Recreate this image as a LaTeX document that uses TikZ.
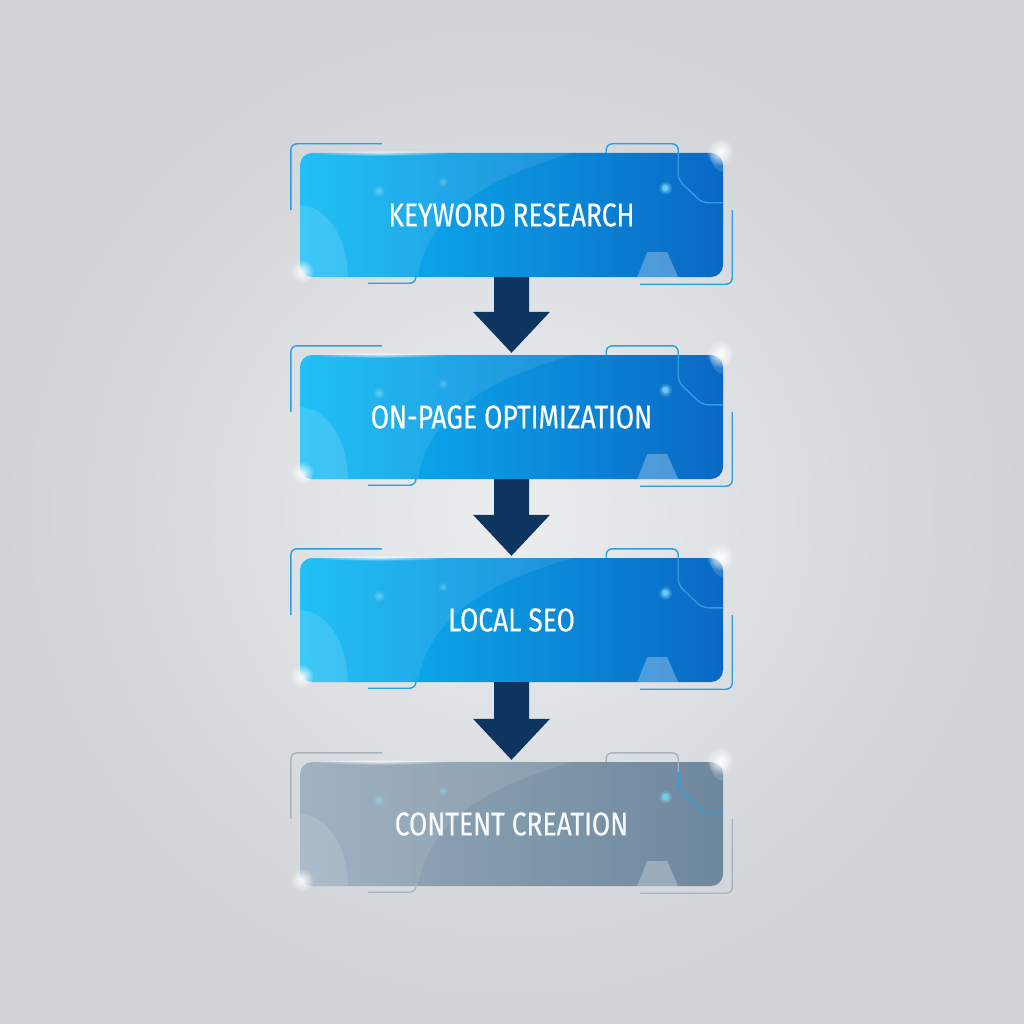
\documentclass[tikz,border=0pt]{standalone}
\usepackage{fontspec}
\newfontfamily\stepfont[FakeStretch=0.8, FakeBold=0.4]{Fira Sans}
\usetikzlibrary{calc,fadings}

\definecolor{bgin}{HTML}{EBEDEF}
\definecolor{bgout}{HTML}{CFD2D6}
\definecolor{blueL}{HTML}{0CBBF6}
\definecolor{blueM}{HTML}{0880D4}
\definecolor{blueR}{HTML}{0A68C4}
\definecolor{greyL}{HTML}{98ABBB}
\definecolor{greyM}{HTML}{7990A5}
\definecolor{greyR}{HTML}{6D879D}
\definecolor{flow}{HTML}{0E3560}
\definecolor{trim}{HTML}{2C9FE2}
\definecolor{trimgrey}{HTML}{A9B3BC}

\tikzfading[name=glow, inner color=transparent!0, outer color=transparent!100]

\tikzset{
  stepbox/.style={rounded corners=12pt, minimum width=423pt, minimum height=124pt,
    inner sep=0pt, text=white, font=\stepfont\fontsize{33}{36}\selectfont},
  bluebox/.style={stepbox, left color=blueL, middle color=blueM, right color=blueR},
  greybox/.style={stepbox, left color=greyL, middle color=greyM, right color=greyR},
  flowarrow/.style={fill=flow},
  trimline/.style={line width=1.4pt, rounded corners=6pt},
}

% #1 node, #2 bracket colour, #3 colour of the corner circuit
\newcommand{\stepdeco}[3]{
  \begin{scope}
    \clip[rounded corners=12pt] (#1.north west) rectangle (#1.south east);
    \fill[white, opacity=0.09] (#1.north west) -- ($(#1.north west)+(273,0)$)
      .. controls ($(#1.north west)+(200,22)$) and ($(#1.north west)+(130,52)$) .. ($(#1.north west)+(118,124)$)
      -- (#1.south west) -- cycle;
    \fill[white, opacity=0.13] (#1.south west) ellipse [x radius=48pt, y radius=72pt];
    \fill[white, opacity=0.15] (#1.north east) ellipse [x radius=13pt, y radius=19pt];
    \fill[white, opacity=0.28] ($(#1.south east)+(-86,0)$) -- ($(#1.south east)+(-76,-25)$)
      -- ($(#1.south east)+(-56,-25)$) -- ($(#1.south east)+(-45,0)$) -- cycle;
    \fill[cyan!50!white, path fading=glow] ($(#1.north east)+(-58,35)$) circle (7pt);
    \fill[cyan!60!white, opacity=0.9] ($(#1.north east)+(-58,35)$) circle (3pt);
    \fill[cyan!40!white, path fading=glow, opacity=0.6] ($(#1.north west)+(79,38)$) circle (6pt);
    \fill[cyan!40!white, path fading=glow, opacity=0.5] ($(#1.north west)+(143,29)$) circle (5pt);
  \end{scope}
  \draw[trimline, #2] ($(#1.north west)+(-9,57)$) -- ($(#1.north west)+(-9,-9)$) -- ($(#1.north west)+(82,-9)$);
  \draw[trimline, #2] ($(#1.south west)+(68,6)$) -- ($(#1.south west)+(116,6)$) -- ($(#1.south west)+(116,-3)$);
  \draw[trimline, #2] ($(#1.north east)+(-117,0)$) -- ($(#1.north east)+(-117,-9)$) -- ($(#1.north east)+(-45,-9)$) -- ($(#1.north east)+(-45,10)$);
  \draw[trimline, #3] ($(#1.north east)+(-45,10)$) -- ($(#1.north east)+(-45,27)$) -- ($(#1.north east)+(-21,50)$) -- ($(#1.north east)+(0,50)$);
  \draw[trimline, #2] ($(#1.south east)+(9,-67)$) -- ($(#1.south east)+(9,7)$) -- ($(#1.south east)+(-83,7)$);
  \fill[white, path fading=glow] ($(#1.north east)+(-3,-1)$) circle (14pt);
  \fill[white, path fading=glow, opacity=0.9] ($(#1.south west)+(2,-6)$) circle (12pt);
  \fill[white, path fading=glow, opacity=0.7] ($(#1.north west)+(80,0)$) ellipse [x radius=70pt, y radius=3pt];
}

\newcommand{\flowto}[2]{
  \fill[flowarrow] ($(#1.south)+(-17.5,0)$) -- ($(#2.north)+(-17.5,-43)$) -- ($(#2.north)+(-38.5,-43)$)
    -- ($(#2.north)+(0,-2)$) -- ($(#2.north)+(38.5,-43)$) -- ($(#2.north)+(17.5,-43)$)
    -- ($(#1.south)+(17.5,0)$) -- cycle;
}

\begin{document}
\begin{tikzpicture}[x=1pt, y=-1pt]
\shade[inner color=bgin, outer color=bgout] (0,0) rectangle (1024,1024);

\node[bluebox] (kw) at (511.5,215) {KEYWORD RESEARCH};
\node[bluebox] (onpage) at (511.5,417) {ON-PAGE OPTIMIZATION};
\node[bluebox] (local) at (511.5,620) {LOCAL SEO};
\node[greybox, text=white!93!greyL] (content) at (511.5,824) {CONTENT CREATION};

\stepdeco{kw}{trim}{trim}
\stepdeco{onpage}{trim}{trim}
\stepdeco{local}{trim}{trim}
\stepdeco{content}{trimgrey}{trim}

\flowto{kw}{onpage}
\flowto{onpage}{local}
\flowto{local}{content}
\end{tikzpicture}
\end{document}
